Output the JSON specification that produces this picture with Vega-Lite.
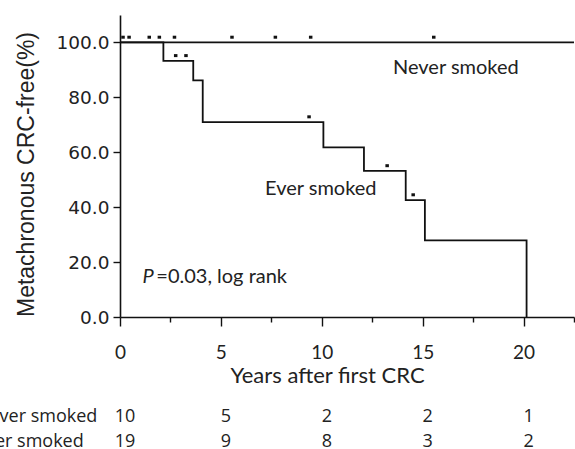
{
  "$schema": "https://vega.github.io/schema/vega-lite/v6.json",
  "width": 454,
  "height": 302,
  "autosize": {"type": "none"},
  "padding": {"left": 120, "top": 15, "right": 1, "bottom": 132},
  "background": "white",
  "config": {"view": {"stroke": null}},
  "datasets": {
    "curves": [
      {"group": "Never smoked", "time": 0, "surv": 100},
      {"group": "Never smoked", "time": 22.5, "surv": 100},
      {"group": "Ever smoked", "time": 0, "surv": 100},
      {"group": "Ever smoked", "time": 2.15, "surv": 93.3},
      {"group": "Ever smoked", "time": 3.63, "surv": 86.2},
      {"group": "Ever smoked", "time": 4.1, "surv": 71.0},
      {"group": "Ever smoked", "time": 10.08, "surv": 61.8},
      {"group": "Ever smoked", "time": 12.09, "surv": 53.2},
      {"group": "Ever smoked", "time": 14.16, "surv": 42.6},
      {"group": "Ever smoked", "time": 15.11, "surv": 27.9},
      {"group": "Ever smoked", "time": 20.15, "surv": 0}
    ],
    "censors": [
      {"group": "Never smoked", "time": 0.15, "surv": 100},
      {"group": "Never smoked", "time": 0.45, "surv": 100},
      {"group": "Never smoked", "time": 1.45, "surv": 100},
      {"group": "Never smoked", "time": 1.95, "surv": 100},
      {"group": "Never smoked", "time": 2.7, "surv": 100},
      {"group": "Never smoked", "time": 5.55, "surv": 100},
      {"group": "Never smoked", "time": 7.7, "surv": 100},
      {"group": "Never smoked", "time": 9.45, "surv": 100},
      {"group": "Never smoked", "time": 15.55, "surv": 100},
      {"group": "Ever smoked", "time": 2.76, "surv": 93.3},
      {"group": "Ever smoked", "time": 3.27, "surv": 93.3},
      {"group": "Ever smoked", "time": 9.37, "surv": 71.0},
      {"group": "Ever smoked", "time": 13.24, "surv": 53.2},
      {"group": "Ever smoked", "time": 14.53, "surv": 42.6}
    ],
    "risk": [
      {"group": "Never smoked", "time": 0, "n": 10},
      {"group": "Never smoked", "time": 5, "n": 5},
      {"group": "Never smoked", "time": 10, "n": 2},
      {"group": "Never smoked", "time": 15, "n": 2},
      {"group": "Never smoked", "time": 20, "n": 1},
      {"group": "Ever smoked", "time": 0, "n": 19},
      {"group": "Ever smoked", "time": 5, "n": 9},
      {"group": "Ever smoked", "time": 10, "n": 8},
      {"group": "Ever smoked", "time": 15, "n": 3},
      {"group": "Ever smoked", "time": 20, "n": 2}
    ]
  },
  "layer": [
    {
      "data": {"name": "curves"},
      "mark": {"type": "line", "interpolate": "step-after", "color": "#111", "strokeWidth": 1.8},
      "encoding": {
        "x": {
          "field": "time", "type": "quantitative",
          "scale": {"domain": [0, 22.5], "nice": false, "zero": false},
          "axis": {
            "values": [0, 2.5, 5, 7.5, 10, 12.5, 15, 17.5, 20, 22.5],
            "labelExpr": "datum.value % 5 == 0 ? datum.value : ''",
            "labelOverlap": false,
            "labelFlush": false,
            "grid": false,
            "domainColor": "#111",
            "domainWidth": 1.6,
            "tickColor": "#111",
            "tickWidth": 1.4,
            "tickSize": {"condition": {"test": "datum.value % 5 == 0", "value": 9}, "value": 5},
            "labelPadding": 17,
            "labelFont": "Lato",
            "labelFontSize": 19,
            "labelColor": "#222",
            "title": "Years after first CRC",
            "titleFont": "Lato",
            "titleFontSize": 22,
            "titleFontWeight": "normal",
            "titleColor": "#222",
            "titlePadding": 3,
            "titleX": 207
          }
        },
        "y": {
          "field": "surv", "type": "quantitative",
          "scale": {"domain": [0, 110], "nice": false},
          "axis": {
            "values": [0, 10, 20, 30, 40, 50, 60, 70, 80, 90, 100, 110],
            "labelExpr": "datum.value % 20 == 0 && datum.value <= 100 ? format(datum.value, '.1f') : ''",
            "labelOverlap": false,
            "labelFlush": false,
            "grid": false,
            "domainColor": "#111",
            "domainWidth": 1.6,
            "tickColor": "#111",
            "tickWidth": 1.4,
            "tickSize": {"condition": {"test": "datum.value % 20 == 0 && datum.value <= 100", "value": 7}, "value": 4},
            "labelPadding": 4,
            "labelFont": "DejaVu Sans",
            "labelFontSize": 18.5,
            "labelColor": "#222",
            "title": "Metachronous CRC-free(%)",
            "titleFont": "Liberation Sans",
            "titleFontSize": 23,
            "titleFontWeight": "normal",
            "titleColor": "#222",
            "titleX": -94,
            "titleY": 159,
            "titleBaseline": "middle"
          }
        },
        "detail": {"field": "group"}
      }
    },
    {
      "data": {"name": "censors"},
      "mark": {
        "type": "point",
        "shape": "M -0.35 -1.35 L 0.35 -1.35 L 0.35 -0.75 L -0.35 -0.75 Z",
        "size": 100,
        "filled": true,
        "color": "#111",
        "opacity": 1
      },
      "encoding": {
        "x": {"field": "time", "type": "quantitative"},
        "y": {"field": "surv", "type": "quantitative"}
      }
    },
    {
      "data": {"values": [{"label": "Never smoked"}]},
      "mark": {"type": "text", "align": "left", "baseline": "middle", "font": "Lato", "fontSize": 20, "color": "#222"},
      "encoding": {
        "x": {"datum": 13.53},
        "y": {"datum": 90.7},
        "text": {"field": "label"}
      }
    },
    {
      "data": {"values": [{"label": "Ever smoked"}]},
      "mark": {"type": "text", "align": "left", "baseline": "middle", "font": "Lato", "fontSize": 20, "color": "#222"},
      "encoding": {
        "x": {"datum": 7.19},
        "y": {"datum": 46.5},
        "text": {"field": "label"}
      }
    },
    {
      "data": {"values": [{"label": "P"}]},
      "mark": {"type": "text", "align": "left", "baseline": "middle", "font": "Lato", "fontSize": 20, "fontStyle": "italic", "color": "#222"},
      "encoding": {
        "x": {"datum": 1.12},
        "y": {"datum": 14.6},
        "text": {"field": "label"}
      }
    },
    {
      "data": {"values": [{"label": "=0.03, log rank"}]},
      "mark": {"type": "text", "align": "left", "baseline": "middle", "font": "Lato", "fontSize": 20, "color": "#222"},
      "encoding": {
        "x": {"datum": 1.8},
        "y": {"datum": 14.6},
        "text": {"field": "label"}
      }
    },
    {
      "data": {"name": "risk"},
      "transform": [{"filter": "datum.group == 'Never smoked'"}],
      "layer": [
        {
          "mark": {"type": "text", "align": "center", "baseline": "middle", "dx": 5, "font": "Open Sans", "fontSize": 18, "color": "#222"},
          "encoding": {
            "x": {"field": "time", "type": "quantitative"},
            "y": {"datum": -36.6},
            "text": {"field": "n"}
          }
        },
        {
          "transform": [{"filter": "datum.time == 0"}],
          "mark": {"type": "text", "align": "left", "baseline": "middle", "font": "Open Sans", "fontSize": 18, "color": "#222"},
          "encoding": {
            "x": {"datum": -7.14},
            "y": {"datum": -36.6},
            "text": {"field": "group"}
          }
        }
      ]
    },
    {
      "data": {"name": "risk"},
      "transform": [{"filter": "datum.group == 'Ever smoked'"}],
      "layer": [
        {
          "mark": {"type": "text", "align": "center", "baseline": "middle", "dx": 5, "font": "Open Sans", "fontSize": 18, "color": "#222"},
          "encoding": {
            "x": {"field": "time", "type": "quantitative"},
            "y": {"datum": -45.7},
            "text": {"field": "n"}
          }
        },
        {
          "transform": [{"filter": "datum.time == 0"}],
          "mark": {"type": "text", "align": "left", "baseline": "middle", "font": "Open Sans", "fontSize": 18, "color": "#222"},
          "encoding": {
            "x": {"datum": -7.14},
            "y": {"datum": -45.7},
            "text": {"field": "group"}
          }
        }
      ]
    }
  ]
}
